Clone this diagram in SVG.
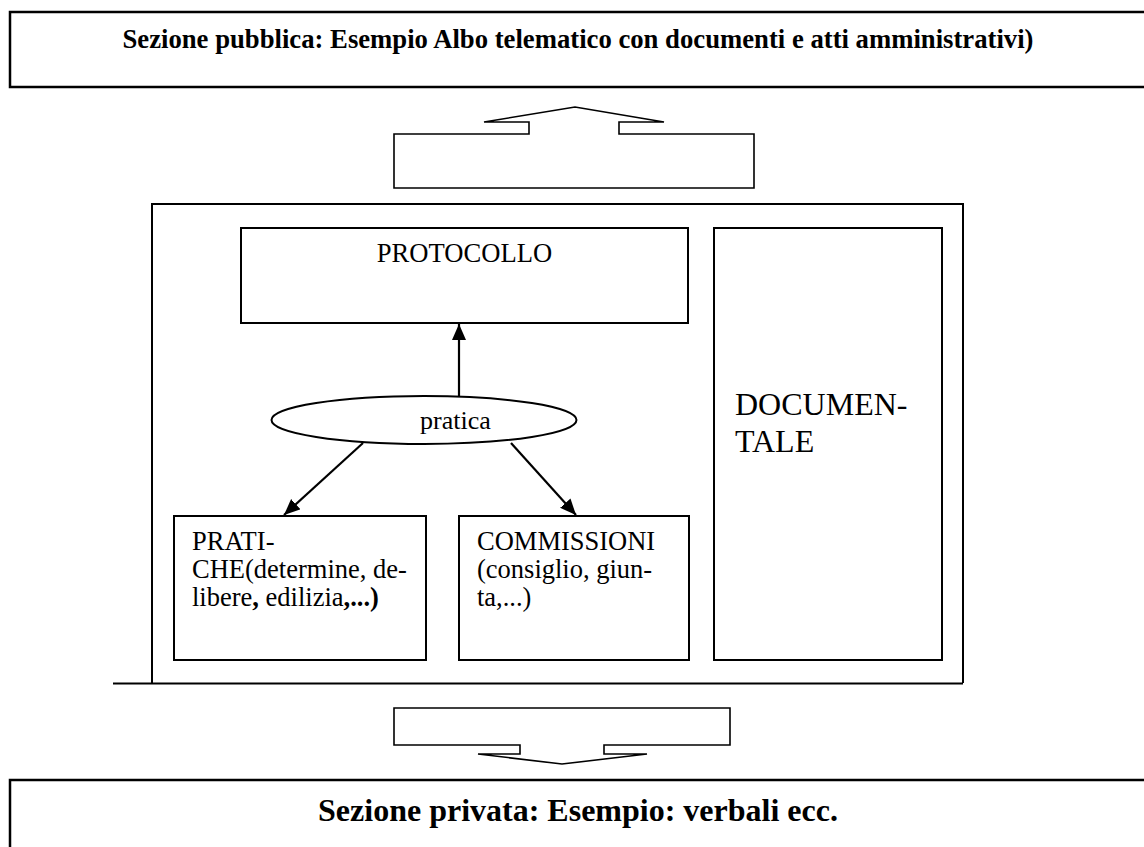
<svg xmlns="http://www.w3.org/2000/svg" width="1144" height="847" viewBox="0 0 1144 847">
<defs>
<style>
.box{fill:#fff;stroke:#000;stroke-width:2}
.blk{fill:#fff;stroke:#000;stroke-width:1.6;stroke-linejoin:miter}
.t{font-family:"Liberation Serif","Times New Roman",serif;fill:#000}
.con{stroke:#000;stroke-width:2.2;fill:none}
</style>
<marker id="ah" markerUnits="userSpaceOnUse" markerWidth="18" markerHeight="16" refX="16" refY="7" orient="auto">
<path d="M0,0 L16,7 L0,14 z" fill="#000"/>
</marker>
</defs>
<rect width="1144" height="847" fill="#fff"/>
<g id="pubblica">
<rect class="box" x="10" y="12" width="1150" height="75" style="stroke-width:2.5"/>
<text class="t" x="578" y="48" text-anchor="middle" font-size="26.7" font-weight="bold">Sezione pubblica: Esempio Albo telematico con documenti e atti amministrativi)</text>
</g>
<g id="freccia-su">
<path class="blk" d="M394,188 V134 H529 V122 H484 L575,107 L664,122 H619 V134 H754 V188 Z"/>
</g>
<g id="contenitore">
<path class="box" d="M152,683 V204 H963 V683" fill="none"/>
<line x1="113" y1="683.5" x2="963" y2="683.5" stroke="#000" stroke-width="2"/>
</g>
<g id="protocollo">
<rect class="box" x="241" y="228" width="447" height="95"/>
<text class="t" x="464.5" y="262" text-anchor="middle" font-size="26.6">PROTOCOLLO</text>
</g>
<g id="documentale">
<rect class="box" x="714" y="228" width="228" height="432"/>
<text class="t" font-size="32"><tspan x="735" y="415">DOCUMEN-</tspan><tspan x="735" y="452">TALE</tspan></text>
</g>
<g id="pratica">
<ellipse class="box" cx="424" cy="420" rx="152.5" ry="24"/>
<text class="t" x="420" y="429" font-size="26">pratica</text>
</g>
<g id="pratiche">
<rect class="box" x="174" y="516" width="252" height="144"/>
<text class="t" font-size="26.5"><tspan x="192" y="550">PRATI-</tspan><tspan x="192" y="578">CHE(determine, de-</tspan><tspan x="192" y="606">libere<tspan font-weight="bold">,</tspan> edilizia<tspan font-weight="bold">,...)</tspan></tspan></text>
</g>
<g id="commissioni">
<rect class="box" x="459" y="516" width="230" height="144"/>
<text class="t" font-size="26.5"><tspan x="477" y="550">COMMISSIONI</tspan><tspan x="477" y="578">(consiglio, giun-</tspan><tspan x="477" y="606">ta,...)</tspan></text>
</g>
<g id="connettori">
<line class="con" x1="459" y1="396" x2="459" y2="324" marker-end="url(#ah)"/>
<line class="con" x1="363" y1="443" x2="284" y2="515" marker-end="url(#ah)"/>
<line class="con" x1="511" y1="443" x2="576" y2="515" marker-end="url(#ah)"/>
</g>
<g id="freccia-giu">
<path class="blk" d="M394,708 H730 V745 H604 V754 H647 L562,764 L478,754 H520 V745 H394 Z"/>
</g>
<g id="privata">
<rect class="box" x="10" y="780" width="1150" height="80" style="stroke-width:2.5"/>
<text class="t" x="578" y="821" text-anchor="middle" font-size="32" font-weight="bold">Sezione privata: Esempio: verbali ecc.</text>
</g>
</svg>
